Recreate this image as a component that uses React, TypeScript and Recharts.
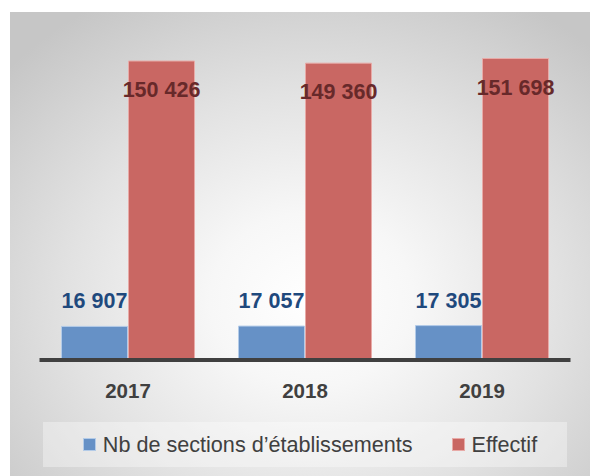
import React from 'react';
import { BarChart, Bar, XAxis, YAxis, Legend, LabelList } from 'recharts';

const categories = ['2017', '2018', '2019'];
const sectionsValues = [16907, 17057, 17305];
const effectifValues = [150426, 149360, 151698];
const seriesNames = ['Nb de sections d\u2019établissements', 'Effectif'];
const seriesColors = ['#6691c6', '#c96763'];
const seriesStrokes = ['#b3cbe8', '#e8aaa7'];
const labelColors = ['#1f497d', '#67292a'];

const data = categories.map((year, i) => ({
  year,
  sections: sectionsValues[i],
  effectif: effectifValues[i],
}));

const FONT = '"Liberation Sans", Arial, sans-serif';

const fmt = (v: number) => String(v).replace(/\B(?=(\d{3})+(?!\d))/g, ' ');

const BlueLabel = (props: any) => {
  const { x, y, width, value } = props;
  return (
    <text x={x + width / 2} y={y - 18} textAnchor="middle" fontFamily={FONT} fontWeight="bold" fontSize={21.5} fill={labelColors[0]}>
      {fmt(value)}
    </text>
  );
};

const RedLabel = (props: any) => {
  const { x, y, width, value } = props;
  return (
    <text x={x + width / 2} y={y + 36} textAnchor="middle" fontFamily={FONT} fontWeight="bold" fontSize={21.5} fill={labelColors[1]}>
      {fmt(value)}
    </text>
  );
};

const YearTick = (props: any) => {
  const { x, y, payload } = props;
  return (
    <text x={x} y={y + 30} textAnchor="middle" fontFamily={FONT} fontWeight="bold" fontSize={20.5} fill="#404040">
      {payload.value}
    </text>
  );
};

const LegendContent = () => (
  <div
    style={{
      width: '100%',
      height: '100%',
      display: 'flex',
      alignItems: 'center',
      justifyContent: 'center',
      paddingLeft: 10,
      boxSizing: 'border-box',
      fontFamily: FONT,
      fontSize: 21.6,
      color: '#404040',
    }}
  >
    {seriesNames.map((name, i) => (
      <div key={name} style={{ display: 'flex', alignItems: 'center', marginLeft: i === 0 ? 0 : 39 }}>
        <div
          style={{
            width: 13,
            height: 13,
            background: seriesColors[i],
            border: `1px solid ${seriesStrokes[i]}`,
            boxSizing: 'border-box',
            marginRight: 7,
          }}
        />
        <span style={{ lineHeight: '24px' }}>{name}</span>
      </div>
    ))}
  </div>
);

export default function App() {
  return (
    <div style={{ position: 'absolute', left: 0, top: 0, width: 590, height: 476, background: '#ffffff' }}>
      <div
        style={{
          position: 'absolute',
          left: 10,
          top: 12,
          width: 580,
          height: 464,
          background: 'radial-gradient(ellipse 70% 75% at 52% 62%, #ffffff 0%, #f7f7f7 25%, #e2e2e2 60%, #c6c6c6 100%)',
        }}
      />
      <div style={{ position: 'absolute', left: 0, top: 0 }}>
        <BarChart
          width={590}
          height={476}
          data={data}
          margin={{ top: 42, right: 19.5, left: 39.5, bottom: 41 }}
          barSize={66}
          barGap={1}
        >
          <XAxis
            dataKey="year"
            height={30}
            axisLine={{ stroke: '#404040', strokeWidth: 4 }}
            tickLine={false}
            tick={<YearTick />}
            interval={0}
          />
          <YAxis hide domain={[0, 160000]} />
          <Legend
            verticalAlign="bottom"
            content={<LegendContent />}
            wrapperStyle={{ left: 43, top: 422, width: 524, height: 45, background: 'rgba(255,255,255,0.35)' }}
          />
          <Bar dataKey="sections" name={seriesNames[0]} fill={seriesColors[0]} stroke={seriesStrokes[0]} strokeWidth={1} isAnimationActive={false}>
            <LabelList dataKey="sections" content={<BlueLabel />} />
          </Bar>
          <Bar dataKey="effectif" name={seriesNames[1]} fill={seriesColors[1]} stroke={seriesStrokes[1]} strokeWidth={1} isAnimationActive={false}>
            <LabelList dataKey="effectif" content={<RedLabel />} />
          </Bar>
        </BarChart>
      </div>
    </div>
  );
}
